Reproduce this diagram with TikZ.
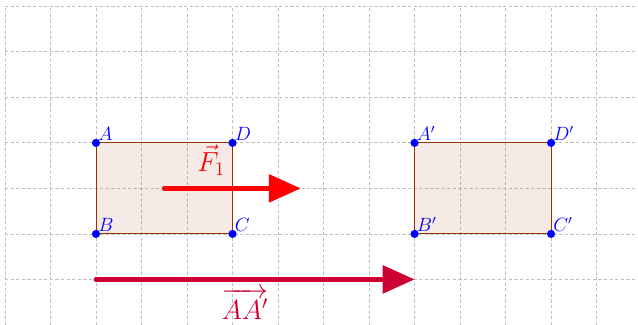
\documentclass[tikz,border=0pt]{standalone}
\usepackage{amsmath,amssymb}
\usepackage{xcolor}
\usepackage{tikz}
\usetikzlibrary{arrows.meta, positioning, calc}
\definecolor{rectbrown}{RGB}{153,51,0}
\definecolor{vecred}{RGB}{255,0,0}
\definecolor{veccrimson}{RGB}{204,0,51}
\definecolor{ptblue}{RGB}{0,0,255}
\tikzstyle{gridline} = [gray!50, line width=0.5pt, dash pattern=on 2pt off 1.5pt]
\tikzstyle{rectface} = [draw=rectbrown, line width=0.6pt, fill=rectbrown, fill opacity=0.1, draw opacity=1]
\tikzstyle{pt} = [circle, fill=ptblue, inner sep=0pt, minimum size=0.18cm]
\tikzstyle{ptlabel} = [above right, inner sep=1.2pt, text=ptblue, font=\fontsize{12pt}{14pt}\selectfont]
\tikzstyle{veclabel} = [inner sep=0.5pt, font=\LARGE]
\tikzstyle{vecarrow} = [line width=3pt, line cap=round, -{Triangle[length=0.7cm,width=0.6cm]}]

\begin{document}
\begin{tikzpicture}
  \useasboundingbox (-2.11,-1.98) rectangle (11.91,5.14);
  \draw[gridline] (-2,-2) grid (11.91,5);

  % rectangle ABCD and its image
  \coordinate (A) at (0,2);
  \coordinate (B) at (0,0);
  \coordinate (C) at (3,0);
  \coordinate (D) at (3,2);
  \coordinate (A1) at (7,2);
  \coordinate (B1) at (7,0);
  \coordinate (C1) at (10,0);
  \coordinate (D1) at (10,2);
  \draw[rectface] (A) -- (D) -- (C) -- (B) -- cycle;
  \draw[rectface] (A1) -- (D1) -- (C1) -- (B1) -- cycle;

  % vectors
  \coordinate (F1start) at (1.5,1);
  \coordinate (F1end) at (4.5,1);
  \coordinate (AAstart) at (0,-1);
  \coordinate (AAend) at (7,-1);
  \draw[vecarrow, vecred] (F1start) -- (F1end);
  \draw[vecarrow, veccrimson] (AAstart) -- (AAend);
  \node (F1lab) [veclabel, text=vecred] at (2.53,1.62) {$\vec{F}_1$};
  \node (AAlab) [veclabel, text=veccrimson] at (3.27,-1.54) {$\overrightarrow{AA'}$};

  % points
  \foreach \p/\t in {A/A, B/B, C/C, D/D, A1/A', B1/B', C1/C', D1/D'} {
    \node (\p dot) [pt] at (\p) {};
    \node (\p lab) [ptlabel] at (\p) {$\t$};
  }
\end{tikzpicture}
\end{document}
